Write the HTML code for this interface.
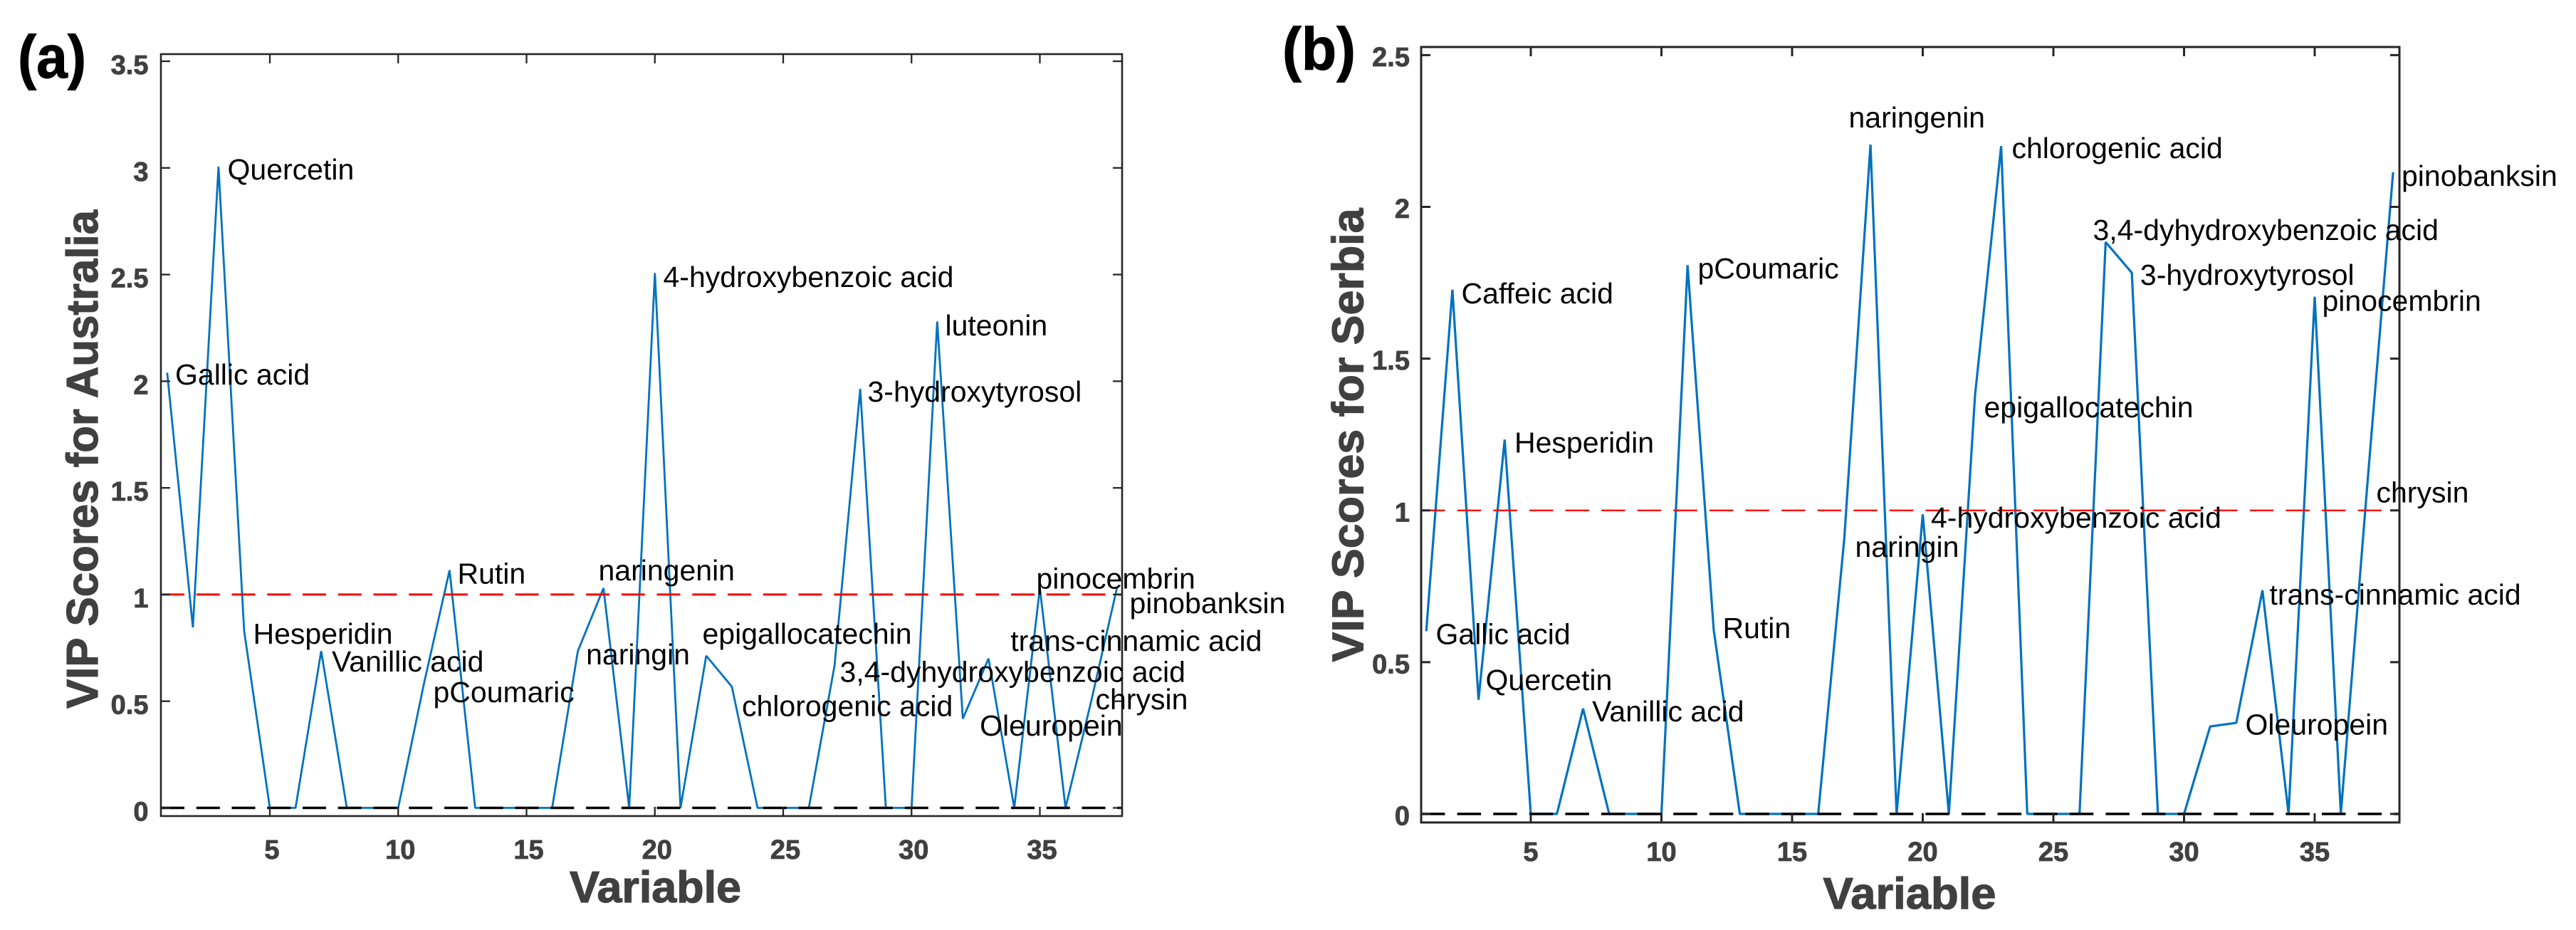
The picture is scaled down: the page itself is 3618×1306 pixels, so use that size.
<!DOCTYPE html>
<html lang="en">
<head>
<meta charset="utf-8">
<title>VIP Scores for Australia and Serbia</title>
<style>
html,body{margin:0;padding:0;background:#fff;}
svg{display:block;}
text{font-family:"Liberation Sans",sans-serif;}
.lbl{font-size:41px;fill:#000;}
.tick{font-size:38px;font-weight:bold;fill:#404040;stroke:#404040;stroke-width:.8px;}
.title{font-size:62px;font-weight:bold;fill:#404040;stroke:#404040;stroke-width:1.2px;}
.panel{font-size:84px;font-weight:bold;fill:#000;stroke:#000;stroke-width:1px;}
</style>
</head>
<body>
<svg id="fig" width="3618" height="1306" viewBox="0 0 3618 1306" xmlns="http://www.w3.org/2000/svg">
  <rect x="0" y="0" width="3618" height="1306" fill="#ffffff"/>

  <g id="chart-a"></g>
  <g id="chart-b"></g>

  <text class="panel" x="25" y="109" textLength="96" lengthAdjust="spacingAndGlyphs">(a)</text>
  <text class="panel" x="1801" y="98" textLength="103" lengthAdjust="spacingAndGlyphs">(b)</text>

  <text class="title" transform="translate(137,645) rotate(-90)" text-anchor="middle" textLength="700" lengthAdjust="spacingAndGlyphs">VIP Scores for Australia</text>
  <text class="title" x="920.5" y="1267" text-anchor="middle" textLength="241" lengthAdjust="spacingAndGlyphs">Variable</text>
  <text class="title" transform="translate(1914.5,611) rotate(-90)" text-anchor="middle" textLength="637" lengthAdjust="spacingAndGlyphs">VIP Scores for Serbia</text>
  <text class="title" x="2682" y="1276" text-anchor="middle" textLength="243" lengthAdjust="spacingAndGlyphs">Variable</text>

  <g transform="translate(-1.5,0)">
    <text class="lbl" x="321" y="252">Quercetin</text>
    <text class="lbl" x="247.5" y="540">Gallic acid</text>
    <text class="lbl" x="933" y="403">4-hydroxybenzoic acid</text>
    <text class="lbl" x="1329" y="471">luteonin</text>
    <text class="lbl" x="1220" y="564">3-hydroxytyrosol</text>
    <text class="lbl" x="644" y="819.5">Rutin</text>
    <text class="lbl" x="842" y="815">naringenin</text>
    <text class="lbl" x="357" y="904">Hesperidin</text>
    <text class="lbl" x="467.5" y="943">Vanillic acid</text>
    <text class="lbl" x="610" y="986">pCoumaric</text>
    <text class="lbl" x="824.6" y="933">naringin</text>
    <text class="lbl" x="988" y="904">epigallocatechin</text>
    <text class="lbl" x="1043.5" y="1005.6">chlorogenic acid</text>
    <text class="lbl" x="1181" y="957.5">3,4-dyhydroxybenzoic acid</text>
    <text class="lbl" x="1420.7" y="914">trans-cinnamic acid</text>
    <text class="lbl" x="1457" y="826.6">pinocembrin</text>
    <text class="lbl" x="1588" y="861">pinobanksin</text>
    <text class="lbl" x="1540" y="996">chrysin</text>
    <text class="lbl" x="1377.6" y="1033">Oleuropein</text>
  </g>

  <g transform="translate(-1.5,0)">
    <text class="lbl" x="2054" y="426">Caffeic acid</text>
    <text class="lbl" x="2128.5" y="635.5">Hesperidin</text>
    <text class="lbl" x="2386" y="391">pCoumaric</text>
    <text class="lbl" x="2598" y="179">naringenin</text>
    <text class="lbl" x="2827" y="222">chlorogenic acid</text>
    <text class="lbl" x="2941" y="337">3,4-dyhydroxybenzoic acid</text>
    <text class="lbl" x="3007.4" y="400">3-hydroxytyrosol</text>
    <text class="lbl" x="3263" y="436.5">pinocembrin</text>
    <text class="lbl" x="3374.5" y="261">pinobanksin</text>
    <text class="lbl" x="2788" y="586">epigallocatechin</text>
    <text class="lbl" x="3339" y="705.6">chrysin</text>
    <text class="lbl" x="2713.5" y="741">4-hydroxybenzoic acid</text>
    <text class="lbl" x="2607" y="782">naringin</text>
    <text class="lbl" x="2018" y="904.4">Gallic acid</text>
    <text class="lbl" x="2088" y="969">Quercetin</text>
    <text class="lbl" x="2421" y="896">Rutin</text>
    <text class="lbl" x="2237.6" y="1012.8">Vanillic acid</text>
    <text class="lbl" x="3189" y="849">trans-cinnamic acid</text>
    <text class="lbl" x="3155" y="1031.6">Oleuropein</text>
  </g>
</svg>

<script>
var variables = [1,2,3,4,5,6,7,8,9,10,11,12,13,14,15,16,17,18,19,20,21,22,23,24,25,26,27,28,29,30,31,32,33,34,35,36,37,38];
var australiaVip = [2.04,0.846,3.006,0.83,0,0,0.735,0,0,0,0.58,1.114,0,0,0,0,0.735,1.03,0,2.507,0,0.713,0.568,0,0,0,0.667,1.964,0,0,2.28,0.418,0.70,0,1.03,0,0.5,1.03];
var serbiaVip = [0.602,1.727,0.376,1.233,0,0,0.347,0,0,0,1.808,0.607,0,0,0,0,0.91,2.205,0,0.987,0,1.378,2.2,0,0,0,1.884,1.783,0,0,0.288,0.30,0.737,0,1.704,0,1.07,2.114];
var xTickValues = [5,10,15,20,25,30,35];
var yTickValuesA = [0,0.5,1,1.5,2,2.5,3,3.5];
var yTickValuesB = [0,0.5,1,1.5,2,2.5];
var thresholdValue = 1;
var baselineValue = 0;

var SVGNS = 'http://www.w3.org/2000/svg';

function linearScale(d0, d1, r0, r1) {
  return function (v) { return r0 + (v - d0) * (r1 - r0) / (d1 - d0); };
}

function line(parent, x1, y1, x2, y2, stroke, width) {
  var el = document.createElementNS(SVGNS, 'line');
  el.setAttribute('x1', x1);
  el.setAttribute('y1', y1);
  el.setAttribute('x2', x2);
  el.setAttribute('y2', y2);
  el.setAttribute('stroke', stroke);
  el.setAttribute('stroke-width', width);
  parent.appendChild(el);
  return el;
}

function label(parent, x, y, anchor, str) {
  var el = document.createElementNS(SVGNS, 'text');
  el.setAttribute('class', 'tick');
  el.setAttribute('x', x);
  el.setAttribute('y', y);
  el.setAttribute('text-anchor', anchor);
  el.textContent = str;
  parent.appendChild(el);
  return el;
}

function drawPanel(parent, p, series, yTicks) {
  var sx = p.sx, sy = p.sy;

  var plotLine = document.createElementNS(SVGNS, 'polyline');
  var pts = [];
  for (var i = 0; i < variables.length; i++) {
    pts.push(sx(variables[i]).toFixed(1) + ',' + sy(series[i]).toFixed(1));
  }
  plotLine.setAttribute('points', pts.join(' '));
  plotLine.setAttribute('fill', 'none');
  plotLine.setAttribute('stroke', '#0072BD');
  plotLine.setAttribute('stroke-width', p.lineWidth);
  plotLine.setAttribute('stroke-linejoin', 'bevel');
  
  
  parent.appendChild(plotLine);

  var redLine = line(parent, p.left, sy(thresholdValue), p.right, sy(thresholdValue), '#ff0000', p.redWidth);
  redLine.setAttribute('stroke-dasharray', p.dash);
  
  

  var zeroLine = line(parent, p.left, sy(baselineValue), p.right, sy(baselineValue), '#000000', p.blackWidth);
  zeroLine.setAttribute('stroke-dasharray', p.dash);
  
  

  var frame = document.createElementNS(SVGNS, 'rect');
  frame.setAttribute('x', p.left);
  frame.setAttribute('y', p.top);
  frame.setAttribute('width', p.right - p.left);
  frame.setAttribute('height', p.bottom - p.top);
  frame.setAttribute('fill', 'none');
  frame.setAttribute('stroke', '#262626');
  frame.setAttribute('stroke-width', p.frameWidth);
  
  
  parent.appendChild(frame);

  xTickValues.forEach(function (t) {
    var x = sx(t);
    var low = line(parent, x, p.bottom, x, p.bottom - 13, '#262626', p.tickWidth);
    
    
    var high = line(parent, x, p.top, x, p.top + 13, '#262626', p.tickWidth);
    
    
    var tl = label(parent, x + p.xLabelShift, p.xLabelY, 'middle', String(t));
    
    
  });

  yTicks.forEach(function (t) {
    var y = sy(t);
    var lt = line(parent, p.left, y, p.left + 13, y, '#262626', p.tickWidth);
    
    
    var rt = line(parent, p.right, y, p.right - 13, y, '#262626', p.tickWidth);
    
    
    var tl = label(parent, p.yLabelX, y + p.yLabelDy, 'end', String(t));
    
    
  });
}

drawPanel(document.getElementById('chart-a'), {
  sx: linearScale(5, 35, 379, 1460.5),
  sy: linearScale(0, 3.5, 1134.5, 86),
  left: 226, right: 1576, top: 76, bottom: 1146,
  lineWidth: 2.8, redWidth: 3, blackWidth: 3.4, frameWidth: 2.6, tickWidth: 2.3, dash: '33 16.75',
  xLabelShift: 3, xLabelY: 1206, yLabelX: 208.5, yLabelDy: 18
}, australiaVip, yTickValuesA);

drawPanel(document.getElementById('chart-b'), {
  sx: linearScale(5, 35, 2150, 3251),
  sy: linearScale(0, 2.5, 1143, 77.4),
  left: 1996, right: 3370, top: 66, bottom: 1155,
  lineWidth: 3.2, redWidth: 2.2, blackWidth: 3.5, frameWidth: 3, tickWidth: 3, dash: '33.5 17.1',
  xLabelShift: 0, xLabelY: 1209, yLabelX: 1980, yLabelDy: 15.5
}, serbiaVip, yTickValuesB);
</script>
</body>
</html>
